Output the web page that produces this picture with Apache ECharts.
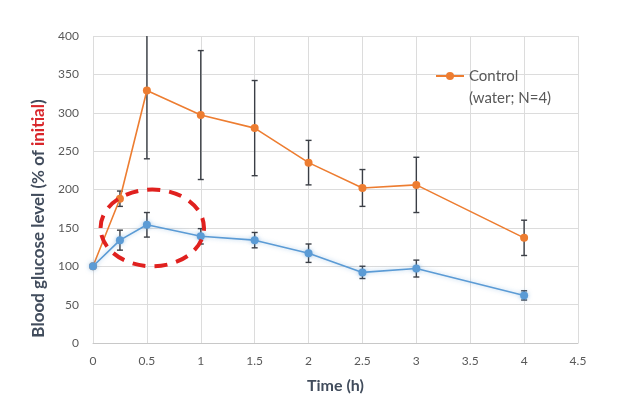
<!DOCTYPE html>
<html>
<head>
<meta charset="utf-8">
<script src="https://cdn.jsdelivr.net/npm/echarts@6/dist/echarts.min.js"></script>
<style>html,body{margin:0;padding:0;background:#fff}#c{width:620px;height:410px}</style>
</head>
<body>
<div id="c"></div>
<script>
// ---- data ----
var times = [0, 0.25, 0.5, 1, 1.5, 2, 2.5, 3, 4];
var controlMean = [100, 188, 329, 297, 280, 235, 202, 206, 137];
var controlErr  = [0, 10, 89, 84, 62, 29, 24, 36, 23];
var treatedMean = [100, 134, 154, 139, 134, 117, 92, 97, 62];
var treatedErr  = [0, 13, 16, 10, 10, 12, 8, 11, 6];
var xTicks = [0, 0.5, 1, 1.5, 2, 2.5, 3, 3.5, 4, 4.5];
var yTicks = [0, 50, 100, 150, 200, 250, 300, 350, 400];
// annotation ellipse: [centre time, centre value, radius (h), radius (%)]
var highlight = [[0.55, 150, 0.48, 50]];

var FONT = 'Lato, "Liberation Sans", sans-serif';
var chart = echarts.init(document.getElementById('c'), null, {renderer: 'canvas'});

function pts(m) { return times.map(function (t, i) { return [t, m[i]]; }); }
function errs(m, e) { return times.map(function (t, i) { return [t, m[i] - e[i], m[i] + e[i]]; }); }

function errRender(params, api) {
  var x = api.value(0);
  var lo = api.coord([x, api.value(1)]);
  var hi = api.coord([x, api.value(2)]);
  var w = 3;
  var st = {stroke: '#3b3f46', lineWidth: 1.4};
  return {
    type: 'group',
    children: [
      {type: 'line', shape: {x1: lo[0], y1: lo[1], x2: hi[0], y2: hi[1]}, style: st},
      {type: 'line', shape: {x1: lo[0] - w, y1: lo[1], x2: lo[0] + w, y2: lo[1]}, style: st},
      {type: 'line', shape: {x1: hi[0] - w, y1: hi[1], x2: hi[0] + w, y2: hi[1]}, style: st}
    ]
  };
}

chart.setOption({
  animation: false,
  textStyle: {fontFamily: FONT},
  grid: {left: 93, right: 42, top: 36, bottom: 67},
  legend: {
    data: ['Control'],
    left: 435, top: 43, padding: 0,
    itemWidth: 28, itemHeight: 10,
    formatter: function () { return '\nControl\n(water; N=4)'; },
    textStyle: {fontFamily: FONT, fontSize: 15, color: '#595959', lineHeight: 22}
  },
  xAxis: {
    type: 'value', min: xTicks[0], max: xTicks[xTicks.length - 1], interval: 0.5,
    name: 'Time (h)', nameLocation: 'middle', nameGap: 35,
    nameTextStyle: {fontFamily: FONT, fontSize: 16, fontWeight: 'bold', color: '#414c5c'},
    axisLine: {show: true, lineStyle: {color: '#c8c8c8', width: 1}},
    axisTick: {show: false},
    axisLabel: {fontFamily: FONT, fontSize: 12, color: '#595959', margin: 12},
    splitLine: {show: true, lineStyle: {color: '#dcdcdc', width: 1}}
  },
  yAxis: {
    type: 'value', min: yTicks[0], max: yTicks[yTicks.length - 1], interval: 50,
    name: '{a|Blood glucose level (% of }{r|initial}{a|)}',
    nameLocation: 'middle', nameGap: 39, nameRotate: 90,
    nameTextStyle: {
      padding: [0, 58, 0, 0],
      rich: {
        a: {fontFamily: FONT, fontSize: 17, fontWeight: 'bold', color: '#414c5c'},
        r: {fontFamily: FONT, fontSize: 17, fontWeight: 'bold', color: '#d9262b'}
      }
    },
    axisLine: {show: false},
    axisTick: {show: false},
    axisLabel: {fontFamily: FONT, fontSize: 12, color: '#595959', margin: 14},
    splitLine: {show: true, lineStyle: {color: '#dcdcdc', width: 1}}
  },
  series: [
    {
      name: 'ControlErr', type: 'custom', clip: true, z: 2,
      renderItem: errRender, encode: {x: 0, y: [1, 2]},
      data: errs(controlMean, controlErr)
    },
    {
      name: 'TreatedErr', type: 'custom', clip: true, z: 2,
      renderItem: errRender, encode: {x: 0, y: [1, 2]},
      data: errs(treatedMean, treatedErr)
    },
    {
      name: 'Control', type: 'line', z: 3,
      data: pts(controlMean),
      symbol: 'circle', symbolSize: 8,
      lineStyle: {color: '#ED7D31', width: 1.6},
      itemStyle: {color: '#ED7D31'}
    },
    {
      name: 'Treated', type: 'line', z: 4,
      data: pts(treatedMean),
      symbol: 'circle', symbolSize: 8,
      lineStyle: {color: '#5B9BD5', width: 1.6, shadowColor: 'rgba(91,155,213,0.5)', shadowBlur: 4},
      itemStyle: {color: '#5B9BD5', shadowColor: 'rgba(91,155,213,0.5)', shadowBlur: 4}
    },
    {
      name: 'Highlight', type: 'custom', z: 10, clip: false,
      encode: {x: 0, y: 1},
      data: highlight,
      renderItem: function (params, api) {
        var c = api.coord([api.value(0), api.value(1)]);
        var s = api.size([api.value(2), api.value(3)]);
        return {
          type: 'ellipse',
          shape: {cx: c[0], cy: c[1], rx: s[0], ry: s[1]},
          style: {fill: 'none', stroke: '#e0211f', lineWidth: 4, lineDash: [13, 9]}
        };
      }
    }
  ]
});
</script>
</body>
</html>
